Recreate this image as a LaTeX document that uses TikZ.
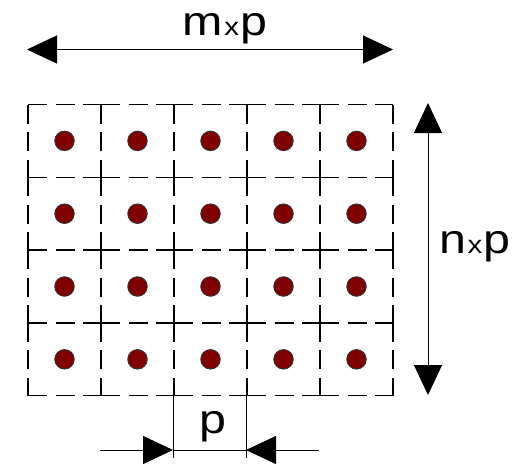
\documentclass[tikz,border=0pt]{standalone}
\usepackage{fontspec}
\setmainfont{Liberation Sans}
\newfontfamily\labelfont[FakeStretch=1.18]{Liberation Sans}
\usetikzlibrary{arrows.meta}
\definecolor{pinred}{RGB}{128,0,0}
\newcommand{\timesx}{\kern1.5pt{\fontsize{25}{25}\selectfont x}\kern1.5pt}
\tikzset{
  gridline/.style={line width=1.3pt, dash pattern=on 19pt off 8.5pt},
  pin/.style={circle, draw=black!80, fill=pinred, minimum size=19.5pt, inner sep=0pt, line width=0.9pt},
  dimline/.style={line width=1pt},
  bigtip/.tip={Triangle[length=30pt, width=28pt]},
  dimlabel/.style={font=\labelfont\fontsize{41}{41}\selectfont, inner sep=0pt},
}
\begin{document}
\begin{tikzpicture}[x=1pt, y=-1pt]
    \useasboundingbox (0,0) rectangle (516,466);

    % Cell grid
    \foreach \i in {0,...,4}
        \foreach \j in {0,...,4}
            \draw[gridline] (28+73*\i, 104.5+72.8*\j) -- ++(73,0);
    \foreach \i in {0,...,5}
        \foreach \j in {0,...,3}
            \draw[gridline] (28+73*\i, 104.5+72.8*\j) -- ++(0,72.8);

    % Pins
    \foreach \i in {1,...,5}
        \foreach \j in {1,...,4}
            \node[pin] (pin-\i-\j) at (28+73*\i-36.5, 104.5+72.8*\j-36.4) {};

    % Width m x p
    \coordinate (mL) at (27,49.5);
    \coordinate (mR) at (393,49.5);
    \draw[dimline, bigtip-bigtip] (mL) -- (mR);
    \node[dimlabel, anchor=base] (mlabel) at (225,35) {m\timesx p};

    % Height n x p
    \coordinate (nT) at (428,103);
    \coordinate (nB) at (428,395);
    \draw[dimline, bigtip-bigtip] (nT) -- (nB);
    \node[dimlabel, anchor=base west] (nlabel) at (439,253) {n\timesx p};

    % Pitch p
    \coordinate (pL) at (173,395);
    \coordinate (pR) at (246,395);
    \coordinate (pLend) at (173,458);
    \coordinate (pRend) at (246,458);
    \coordinate (pLin) at (173,450);
    \coordinate (pRin) at (246,450);
    \coordinate (pLout) at (100,450);
    \coordinate (pRout) at (319,450);
    \draw[dimline] (pL) -- (pLend);
    \draw[dimline] (pR) -- (pRend);
    \draw[dimline] (pLin) -- (pRin);
    \draw[dimline, -bigtip] (pLout) -- (pLin);
    \draw[dimline, -bigtip] (pRout) -- (pRin);
    \node[dimlabel, anchor=base] (plabel) at (213,433) {p};
\end{tikzpicture}
\end{document}
